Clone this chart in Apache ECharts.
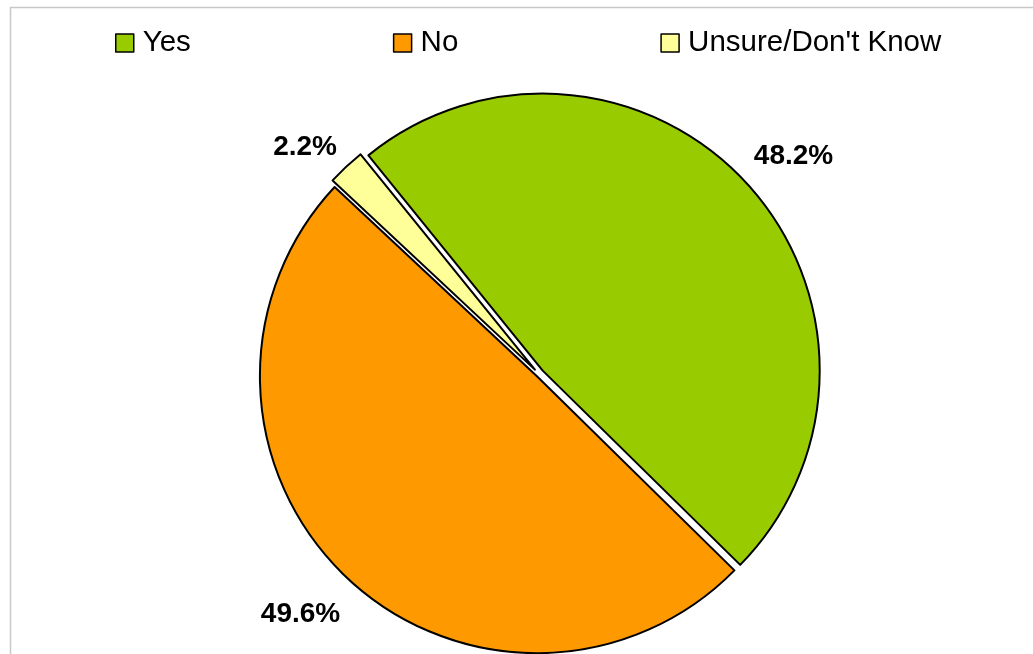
<!DOCTYPE html>
<html>
<head>
<meta charset="utf-8">
<title>Survey responses</title>
<script src="https://cdn.jsdelivr.net/npm/echarts@6/dist/echarts.min.js"></script>
<style>
  html, body { margin: 0; padding: 0; background: #fff; }
  #chart { width: 1033px; height: 654px; }
</style>
</head>
<body>
<div id="chart"></div>
<script>
// Response categories and their shares (percent)
const categories = ['Yes', 'No', "Unsure/Don't Know"];
const percents = [48.2, 49.6, 2.2];
const sliceColors = ['#99CC00', '#FF9900', '#FFFF99'];

// Layout of the pie
const CX = 539, CY = 374, R = 277;
const START_ANGLE = 129;
const explodeBy = [5, 3, 6];          // how far each slice is pulled out
const labelNudge = [[8, 6], [-8, 0], [-7, 17]];

const total = percents.reduce((a, b) => a + b, 0);

// mid angle (degrees, counter-clockwise from east) of each slice, clockwise layout
function midAngle(i) {
  let before = 0;
  for (let k = 0; k < i; k++) before += percents[k];
  const mid = before + percents[i] / 2;
  return START_ANGLE - mid / total * 360;
}

const hidden = { color: 'rgba(0,0,0,0)', borderWidth: 0 };

// one pie per slice so each can be pulled out along its own mid angle
const sliceSeries = categories.map((name, i) => {
  const a = midAngle(i) * Math.PI / 180;
  return {
    type: 'pie',
    silent: true,
    animation: false,
    center: [CX + explodeBy[i] * Math.cos(a), CY - explodeBy[i] * Math.sin(a)],
    radius: R,
    startAngle: START_ANGLE,
    clockwise: true,
    avoidLabelOverlap: false,
    label: { show: false },
    labelLine: { show: false },
    data: categories.map((n, j) => ({
      name: n,
      value: percents[j],
      itemStyle: j === i
        ? { color: sliceColors[j], borderColor: '#000', borderWidth: 2 }
        : hidden
    }))
  };
});

// transparent ring that carries the percentage labels outside the pie
const labelSeries = {
  type: 'pie',
  silent: true,
  animation: false,
  center: [CX, CY],
  radius: [300, 360],
  startAngle: START_ANGLE,
  clockwise: true,
  avoidLabelOverlap: false,
  itemStyle: hidden,
  labelLine: { show: false },
  label: {
    show: true,
    position: 'inside',
    color: '#000',
    fontFamily: 'Liberation Sans, Arial, sans-serif',
    fontWeight: 'bold',
    fontSize: 28,
    formatter: p => p.value.toFixed(1) + '%'
  },
  labelLayout: p => ({ dx: labelNudge[p.dataIndex][0], dy: labelNudge[p.dataIndex][1] }),
  data: categories.map((n, j) => ({ name: n, value: percents[j] }))
};

const chart = echarts.init(document.getElementById('chart'), null, { renderer: 'canvas' });
chart.setOption({
  backgroundColor: '#fff',
  animation: false,
  graphic: [{
    type: 'rect',
    z: -10,
    silent: true,
    shape: { x: 10.5, y: 7.5, width: 1100, height: 800 },
    style: { fill: 'none', stroke: '#c8c8c8', lineWidth: 1.5 }
  }],
  legend: {
    left: 110,
    top: 23,
    orient: 'horizontal',
    itemWidth: 18,
    itemHeight: 18,
    itemGap: 202,
    icon: 'rect',
    selectedMode: false,
    textStyle: {
      color: '#000',
      fontFamily: 'Liberation Sans, Arial, sans-serif',
      fontSize: 29.5,
      padding: [0, 0, 0, 4]
    },
    data: categories.map((n, i) => ({
      name: n,
      itemStyle: { color: sliceColors[i], borderColor: '#000', borderWidth: 1.5 }
    }))
  },
  series: [...sliceSeries, labelSeries]
});
</script>
</body>
</html>
